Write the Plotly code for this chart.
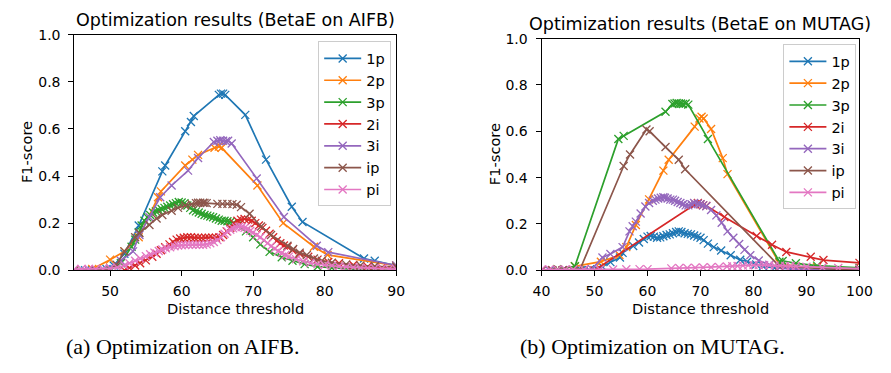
import plotly.graph_objects as go

# ---------------- data ----------------
series_names = ["1p", "2p", "3p", "2i", "3i", "ip", "pi"]
series_colors = ["#1f77b4", "#ff7f0e", "#2ca02c", "#d62728", "#9467bd", "#8c564b", "#e377c2"]

x_ticks_aifb = [50, 60, 70, 80, 90]
x_ticks_mutag = [40, 50, 60, 70, 80, 90, 100]
y_ticks = [0.0, 0.2, 0.4, 0.6, 0.8, 1.0]

# AIFB
aifb_1p_x = [45, 46.5, 48, 49.5, 50.5, 52, 54, 57.3, 57.7, 60.5, 61.3, 61.7, 65.2, 65.5, 65.8, 66.1, 68.9, 71.8, 75.4, 76.9, 85.5, 87, 90]
aifb_1p_y = [0.0, 0.0, 0.0, 0.005, 0.02, 0.07, 0.19, 0.42, 0.445, 0.59, 0.63, 0.655, 0.745, 0.75, 0.75, 0.745, 0.66, 0.47, 0.27, 0.205, 0.05, 0.04, 0.02]

aifb_2p_x = [45, 47.5, 50, 52, 54, 56.7, 57.1, 60.5, 61.5, 62.3, 64.6, 65.2, 65.6, 70.6, 74.2, 78.5, 80.4, 90]
aifb_2p_y = [0.0, 0.005, 0.045, 0.08, 0.14, 0.31, 0.335, 0.445, 0.47, 0.49, 0.52, 0.525, 0.52, 0.36, 0.2, 0.1, 0.065, 0.02]

aifb_3p_x = [45, 48, 50, 51.5, 53, 53.5, 54, 54.4, 54.8, 55.2, 55.6, 56, 56.4, 56.8, 57.2, 57.6, 58, 58.4, 58.8, 59.2, 59.6,
             60, 60.4, 60.8, 61.2, 61.6, 62, 62.4, 62.8, 63.2, 63.6, 64, 64.4, 64.8, 65.2, 65.6, 66, 66.4, 66.8, 67.2,
             67.8, 69, 70, 71, 72.3, 74, 75.5, 77.2, 79, 81, 84, 90]
aifb_3p_y = [0.0, 0.0, 0.0, 0.03, 0.1, 0.13, 0.16, 0.19, 0.21, 0.225, 0.235, 0.245, 0.25, 0.255, 0.26, 0.265, 0.27, 0.275, 0.28, 0.285, 0.29,
             0.288, 0.285, 0.275, 0.265, 0.255, 0.25, 0.245, 0.24, 0.235, 0.232, 0.228, 0.225, 0.22, 0.215, 0.21, 0.21, 0.208, 0.205, 0.2,
             0.19, 0.165, 0.14, 0.11, 0.078, 0.055, 0.04, 0.026, 0.015, 0.01, 0.004, 0.0]

aifb_2i_x = [52, 52.7, 53.5, 54.2, 55, 55.9, 56.5, 57.1, 57.7, 58.3, 58.8, 59.3, 59.8, 60.3, 60.8, 61.3, 61.8, 62.3, 62.8, 63.3,
             63.8, 64.3, 64.8, 65.3, 65.8, 66.3, 66.8, 67.3, 67.8, 68.3, 68.8, 69.3, 69.8, 70.3, 70.8, 71.3, 71.8, 72.3, 72.8,
             73.3, 73.8, 74.3, 74.8, 75.5, 76.5, 77.7, 79, 80.5, 82, 84, 86, 88, 90]
aifb_2i_y = [0.0, 0.01, 0.02, 0.03, 0.042, 0.057, 0.07, 0.085, 0.098, 0.11, 0.12, 0.13, 0.135, 0.138, 0.14, 0.14, 0.138, 0.138, 0.137, 0.138,
             0.138, 0.138, 0.138, 0.14, 0.15, 0.165, 0.18, 0.2, 0.21, 0.215, 0.218, 0.215, 0.21, 0.2, 0.19, 0.18, 0.168, 0.155, 0.14,
             0.125, 0.115, 0.105, 0.1, 0.085, 0.07, 0.057, 0.045, 0.035, 0.03, 0.022, 0.015, 0.01, 0.008]

aifb_3i_x = [45, 47, 49, 50, 51.5, 53.2, 54.1, 55.5, 57, 58.6, 60.9, 62.3, 64.5, 65, 65.4, 65.8, 66.2, 66.5, 67, 70.5, 74.3, 78.9, 80.5, 90]
aifb_3i_y = [0.0, 0.0, 0.005, 0.01, 0.04, 0.08, 0.15, 0.225, 0.31, 0.36, 0.423, 0.477, 0.545, 0.55, 0.552, 0.55, 0.548, 0.55, 0.538, 0.39, 0.226, 0.104, 0.077, 0.02]

aifb_ip_x = [45, 48, 50, 50.9, 52, 53.5, 54.1, 55.5, 56.5, 57.3, 58.6, 59.5, 60.5, 61.4, 62, 62.3, 62.6, 63, 63.2, 63.5, 65, 65.7,
             66.4, 67.1, 67.7, 68.3, 69.5, 71.1, 72.5, 74.8, 75.6, 76.5, 77.5, 78.5, 79.6, 81, 83, 85, 87, 90]
aifb_ip_y = [0.0, 0.0, 0.005, 0.024, 0.08, 0.14, 0.158, 0.192, 0.22, 0.235, 0.253, 0.265, 0.275, 0.28, 0.285, 0.287, 0.287, 0.287, 0.286, 0.285, 0.282, 0.282,
             0.282, 0.281, 0.278, 0.268, 0.24, 0.186, 0.15, 0.104, 0.09, 0.075, 0.065, 0.05, 0.04, 0.032, 0.025, 0.02, 0.017, 0.015]

aifb_pi_x = [45, 46, 47, 48, 49, 50, 51, 52, 52.7, 53.5, 54.2, 55, 55.6, 56.2, 56.8, 57.3, 57.8, 58.4, 59, 59.5, 60, 60.5, 61, 61.5,
             62, 62.5, 63, 63.5, 64, 64.5, 65, 65.5, 66, 66.4, 66.8, 67.2, 67.6, 68, 68.4, 68.8, 69.2, 69.6, 70, 70.5, 71, 71.5,
             72, 72.5, 73, 73.5, 74, 74.5, 75, 76, 77, 78, 79, 80, 81, 82, 83, 84, 85, 86, 87, 88, 89, 90]
aifb_pi_y = [0.005, 0.005, 0.005, 0.005, 0.005, 0.008, 0.012, 0.02, 0.03, 0.04, 0.05, 0.06, 0.068, 0.075, 0.082, 0.088, 0.093, 0.098, 0.102, 0.105, 0.106, 0.107, 0.108, 0.108,
             0.108, 0.108, 0.108, 0.11, 0.115, 0.12, 0.128, 0.14, 0.155, 0.165, 0.172, 0.178, 0.183, 0.185, 0.184, 0.18, 0.175, 0.168, 0.16, 0.15, 0.14, 0.128,
             0.115, 0.102, 0.092, 0.082, 0.073, 0.065, 0.058, 0.047, 0.038, 0.031, 0.026, 0.022, 0.019, 0.016, 0.014, 0.012, 0.01, 0.009, 0.008, 0.007, 0.006, 0.005]

# MUTAG
mutag_1p_x = [40, 41.5, 43, 44.5, 46, 47.5, 49, 50.5, 51.5, 53, 54.8, 55.3, 57.3, 58.4, 59.3, 60, 60.6, 61.2, 61.8, 62.4, 63, 63.6,
              64.2, 64.8, 65.4, 65.9, 66.4, 67, 67.6, 68.2, 68.8, 69.4, 70, 70.6, 71.4, 72.5, 73.9, 75.7, 77.5, 78.8, 80.5, 81.8,
              84, 87, 90, 95, 100]
mutag_1p_y = [0.0, 0.0, 0.0, 0.0, 0.0, 0.0, 0.0, 0.005, 0.015, 0.035, 0.055, 0.075, 0.105, 0.12, 0.135, 0.145, 0.148, 0.145, 0.14, 0.142, 0.147, 0.152,
              0.155, 0.16, 0.165, 0.168, 0.165, 0.16, 0.157, 0.155, 0.15, 0.145, 0.14, 0.13, 0.115, 0.1, 0.085, 0.065, 0.045, 0.037, 0.025, 0.017,
              0.01, 0.005, 0.003, 0.001, 0.0]

mutag_2p_x = [40, 43, 46.3, 51.2, 54.7, 56, 57.8, 60.3, 63, 64, 68.9, 69.8, 70.2, 70.6, 72, 74.2, 75.1, 84.9, 88, 92, 100]
mutag_2p_y = [0.0, 0.005, 0.017, 0.037, 0.066, 0.1, 0.195, 0.306, 0.43, 0.477, 0.62, 0.655, 0.663, 0.655, 0.61, 0.484, 0.415, 0.03, 0.017, 0.013, 0.008]

mutag_3p_x = [40, 43, 46.3, 54.5, 55.5, 63.4, 64.7, 65.1, 65.5, 65.9, 66.3, 66.7, 67.2, 67.7, 71.4, 84.9, 85.5, 88, 92, 100]
mutag_3p_y = [0.0, 0.005, 0.017, 0.567, 0.58, 0.684, 0.718, 0.72, 0.722, 0.72, 0.72, 0.718, 0.72, 0.715, 0.567, 0.037, 0.04, 0.03, 0.02, 0.01]

mutag_2i_x = [40, 42, 44, 46, 48, 50, 69, 69.5, 70, 70.5, 71.1, 74.5, 80.6, 83.5, 86.2, 90.8, 93.2, 100]
mutag_2i_y = [0.0, 0.0, 0.0, 0.0, 0.0, 0.0, 0.285, 0.29, 0.285, 0.28, 0.278, 0.23, 0.148, 0.11, 0.079, 0.058, 0.044, 0.032]

mutag_3i_x = [40, 42, 44, 46, 48, 49.5, 51.5, 53, 55.3, 56.6, 57.2, 57.8, 58.7, 59.6, 60.3, 61, 61.5, 62, 62.5, 63, 63.3, 63.8,
              64.3, 64.8, 65.2, 65.7, 66.2, 66.7, 67.2, 67.7, 68.3, 68.8, 69.5, 70, 70.5, 71.1, 72, 73, 74, 75.1, 76.2, 77.3,
              78.3, 79.4, 81, 83, 85, 88, 92, 100]
mutag_3i_y = [0.0, 0.0, 0.0, 0.0, 0.0, 0.005, 0.055, 0.07, 0.1, 0.168, 0.19, 0.21, 0.245, 0.275, 0.29, 0.3, 0.305, 0.31, 0.313, 0.315, 0.313, 0.31,
              0.305, 0.305, 0.3, 0.295, 0.29, 0.285, 0.28, 0.28, 0.285, 0.29, 0.287, 0.285, 0.28, 0.276, 0.26, 0.237, 0.205, 0.168, 0.14, 0.113,
              0.088, 0.065, 0.042, 0.024, 0.012, 0.005, 0.002, 0.0]

mutag_ip_x = [40, 42, 44, 46, 47.2, 55.5, 56.7, 59.8, 60.4, 63.4, 65.9, 67.1, 84.9, 100]
mutag_ip_y = [0.0, 0.0, 0.0, 0.0, 0.0, 0.45, 0.5, 0.608, 0.6, 0.532, 0.477, 0.436, 0.017, 0.0]

mutag_pi_x = [40, 41.5, 43, 44.5, 46, 48, 51, 53.5, 56, 58.5, 60, 64.5, 66, 67.5, 69, 70.5, 72, 73.5, 75, 76, 77, 78, 79, 80,
              81, 82, 83, 84, 85, 86, 87, 88, 90, 93, 96, 100]
mutag_pi_y = [0.003, 0.003, 0.003, 0.003, 0.003, 0.003, 0.003, 0.003, 0.004, 0.005, 0.005, 0.008, 0.01, 0.01, 0.011, 0.012, 0.013, 0.014, 0.016, 0.017, 0.018, 0.02, 0.021, 0.022,
              0.022, 0.022, 0.021, 0.02, 0.02, 0.019, 0.018, 0.017, 0.015, 0.012, 0.01, 0.007]

aifb_data = [(aifb_1p_x, aifb_1p_y), (aifb_2p_x, aifb_2p_y), (aifb_3p_x, aifb_3p_y), (aifb_2i_x, aifb_2i_y),
             (aifb_3i_x, aifb_3i_y), (aifb_ip_x, aifb_ip_y), (aifb_pi_x, aifb_pi_y)]
mutag_data = [(mutag_1p_x, mutag_1p_y), (mutag_2p_x, mutag_2p_y), (mutag_3p_x, mutag_3p_y), (mutag_2i_x, mutag_2i_y),
              (mutag_3i_x, mutag_3i_y), (mutag_ip_x, mutag_ip_y), (mutag_pi_x, mutag_pi_y)]

title_aifb = "Optimization results (BetaE on AIFB)"
title_mutag = "Optimization results (BetaE on MUTAG)"
caption_aifb = "(a) Optimization on AIFB."
caption_mutag = "(b) Optimization on MUTAG."
x_label = "Distance threshold"
y_label = "F1-score"

# ---------------- figure ----------------
W, H = 891, 373
FONT = "DejaVu Sans"
fig = go.Figure()

def add_series(data, xa, ya, legend):
    for name, color, (xs, ys) in zip(series_names, series_colors, data):
        fig.add_trace(go.Scatter(
            x=xs, y=ys, name=name, mode="lines+markers", xaxis=xa, yaxis=ya, legend=legend,
            line=dict(color=color, width=1.7),
            marker=dict(symbol="x-thin", size=8, color=color, line=dict(color=color, width=1.3)),
        ))

add_series(aifb_data, "x", "y", "legend")
add_series(mutag_data, "x2", "y2", "legend2")

def px_x(p):
    return p / W

def px_y(p):
    return 1 - p / H

axis_common = dict(showline=True, mirror=True, linecolor="black", linewidth=1, ticks="outside", ticklen=5,
                   tickcolor="black", tickwidth=1, showgrid=False, zeroline=False,
                   tickfont=dict(family=FONT, size=14, color="black"))
x_common = dict(ticklabelstandoff=3, **axis_common)
y_common = dict(ticklabelstandoff=5, **axis_common)

legend_common = dict(xanchor="left", yanchor="top", bgcolor="rgba(255,255,255,0.8)", bordercolor="#cccccc",
                     borderwidth=1, font=dict(family=FONT, size=14.5, color="black"), tracegroupgap=0,
                     itemwidth=37)

fig.update_layout(
    width=W, height=H, margin=dict(l=0, r=0, t=0, b=0),
    paper_bgcolor="white", plot_bgcolor="white",
    font=dict(family=FONT, color="black"),
    xaxis=dict(domain=[px_x(67), px_x(397)], range=[45, 90], tickvals=x_ticks_aifb, anchor="y", **x_common),
    yaxis=dict(domain=[px_y(274), px_y(28)], range=[0, 1], tickvals=y_ticks, tickformat=".1f", anchor="x", **y_common),
    xaxis2=dict(domain=[px_x(546), px_x(872)], range=[40, 100], tickvals=x_ticks_mutag, anchor="y2", **x_common),
    yaxis2=dict(domain=[px_y(274), px_y(32)], range=[0, 1], tickvals=y_ticks, tickformat=".1f", anchor="x2", **y_common),
    legend=dict(x=px_x(317), y=px_y(35), **legend_common),
    legend2=dict(x=px_x(794), y=px_y(38), **legend_common),
    showlegend=True,
)

ann = []
def text(x, y, t, size, family=FONT, angle=0, yanchor="middle"):
    ann.append(dict(x=px_x(x), y=px_y(y), xref="paper", yref="paper", text=t, showarrow=False,
                    xanchor="center", yanchor=yanchor, textangle=angle,
                    font=dict(family=family, size=size, color="black")))

text(232, 12.5, title_aifb, 17.5)
text(709, 16.5, title_mutag, 17.5)
text(232, 302.5, x_label, 14.6, yanchor="top")
text(709, 302.5, x_label, 14.6, yanchor="top")
text(18, 151, y_label, 14.6, angle=-90)
text(498, 153, y_label, 14.6, angle=-90)
text(178, 354, caption_aifb, 22, family="Liberation Serif")
text(660, 354, caption_mutag, 22, family="Liberation Serif")
fig.update_layout(annotations=ann)

fig.write_html("out.html")
